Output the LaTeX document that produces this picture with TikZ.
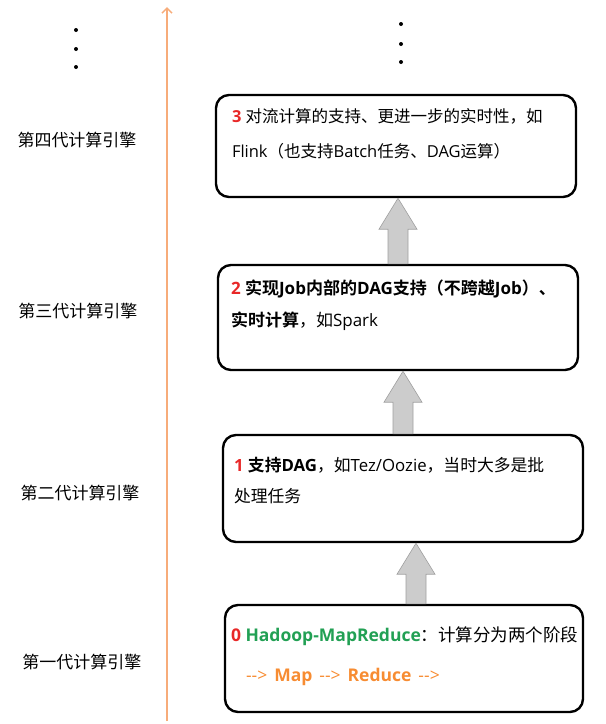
\documentclass[tikz,border=0pt]{standalone}
\usepackage{fontspec}
\setmainfont{Open Sans}
\newfontfamily\zhfont{Noto Sans CJK SC}[BoldFont={Noto Sans CJK SC Bold}]
\newcommand\zh[1]{{\zhfont #1}}
\usetikzlibrary{arrows.meta,calc}
\definecolor{numred}{RGB}{232,40,40}
\definecolor{hgreen}{RGB}{34,160,84}
\definecolor{horange}{RGB}{247,140,50}
\definecolor{axisorange}{RGB}{247,172,122}
\begin{document}
\begin{tikzpicture}[x=1pt, y=-1pt,
    box/.style={draw, line width=2.4pt, rounded corners=13pt, minimum width=360pt, inner sep=0pt},
    txt/.style={anchor=base west, align=left, inner sep=0pt},
    gen/.style={font=\zhfont\fontsize{17}{19}\selectfont},
    fat/.style={draw=gray!75, fill=gray!40, line width=0.6pt,
        to path={let \p1=(\tikztostart), \p2=(\tikztotarget) in
            (\x1-10pt,\y1) -- (\x1-10pt,\y2-31pt) -- (\x1-19pt,\y2-31pt) -- (\x1,\y2)
            -- (\x1+19pt,\y2-31pt) -- (\x1+10pt,\y2-31pt) -- (\x1+10pt,\y1) -- cycle}},
    axis/.style={axisorange, line width=1.5pt, -{Straight Barb[length=5pt,width=10pt]}}]
    \useasboundingbox (0,0) rectangle (606,724);

    % Time axis
    \coordinate (abot) at (167,721);
    \coordinate (atop) at (167,7);
    \draw[axis] (abot) -- (atop);

    % Dots
    \fill (76,30) circle (2pt) (76,49) circle (2pt) (76,67) circle (2pt);
    \fill (401,24) circle (2pt) (401,44) circle (2pt) (401,62) circle (2pt);

    % Generations
    \node[gen] (g4) at (77,140) {第四代计算引擎};
    \node[gen] (g3) at (78,311) {第三代计算引擎};
    \node[gen] (g2) at (80,493) {第二代计算引擎};
    \node[gen] (g1) at (82,662) {第一代计算引擎};

    % Boxes
    \node[box, minimum height=102pt] (b3) at (396,146) {};
    \node[box, minimum height=105pt] (b2) at (398,317.5) {};
    \node[box, minimum height=107pt] (b1) at (403,488.5) {};
    \node[box, minimum width=358pt, minimum height=107pt] (b0) at (404,658.5) {};

    % Box texts (base = last line)
    \node[txt, font=\fontsize{16.5}{35}\selectfont] (t3) at ([xshift=17pt,yshift=-64pt]b3.north west)
        {\textcolor{numred}{\textbf{3}} \zh{对流计算的支持、更进一步的实时性，如}\\Flink\zh{（也支持}Batch\zh{任务、}DAG\zh{运算）}};
    \node[txt, font=\fontsize{17}{32}\selectfont] (t2) at ([xshift=14pt,yshift=-63pt]b2.north west)
        {\textbf{\textcolor{numred}{2} \zh{实现}Job\zh{内部的}DAG\zh{支持（不跨越}Job\zh{）、}}\\\textbf{\zh{实时计算}}\zh{，如}Spark};
    \node[txt, font=\fontsize{16.8}{31}\selectfont] (t1) at ([xshift=12pt,yshift=-69pt]b1.north west)
        {\textcolor{numred}{\textbf{1}} \textbf{\zh{支持}DAG}\zh{，如}Tez/Oozie\zh{，当时大多是批}\\\zh{处理任务}};
    \node[txt, font=\fontsize{17.5}{31}\selectfont] (t0) at ([xshift=7pt,yshift=-38pt]b0.north west)
        {\textcolor{numred}{\textbf{0}} \textcolor{hgreen}{\textbf{Hadoop-MapReduce}}\zh{：计算分为两个阶段}};
    \node[txt, font=\fontsize{17.5}{31}\selectfont, text=horange] (t0b) at ([xshift=22pt,yshift=-78pt]b0.north west)
        {-{}->\hspace{7pt}\textbf{Map}\hspace{7pt}-{}->\hspace{7pt}\textbf{Reduce}\hspace{7pt}-{}->};

    % Arrows
    \draw[fat] ([xshift=12pt]b0.north) to (b1.south);
    \draw[fat] (b1.north) to (b2.south);
    \draw[fat] (b2.north) to (b3.south);
\end{tikzpicture}
\end{document}
